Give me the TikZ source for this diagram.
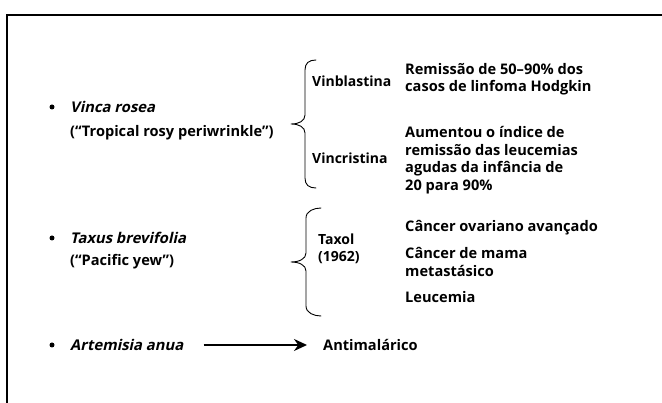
\documentclass[tikz,border=0pt]{standalone}
\usepackage{fontspec}
\setmainfont{Open Sans}
\newfontfamily\spfont{Open Sans}[BoldFeatures={FakeSlant=0.22}]
\usetikzlibrary{arrows.meta}
\begin{document}
\begin{tikzpicture}[x=1pt,y=-1pt,
  txt/.style={inner sep=0pt, anchor=west, align=left, font=\fontsize{14.6}{17.5}\selectfont\bfseries},
  mid/.style={txt, font=\fontsize{14}{17.5}\selectfont\bfseries},
  spc/.style={txt, font=\fontsize{14.8}{17.5}\selectfont\spfont\bfseries},
  bul/.style={circle, fill=black, inner sep=0pt, minimum size=5pt},
  brace/.style={line width=0.9pt, line cap=round, line join=round},
  frame/.style={line width=2.5pt},
  arr/.style={line width=1.8pt, -{Stealth[length=13pt,width=12pt]}}]
\useasboundingbox (0,0) rectangle (662,403);
\draw[frame] (7,404) -- (7,15) -- (663,15);
% block 1
\node[bul] (b1) at (52,107) {};
\node[spc] (vinca) at (70,107) {Vinca rosea};
\node[txt] (trop) at (70,133) {(“Tropical rosy periwrinkle”)};
\draw[brace] (316,60) .. controls (309,60) and (305,63) .. (305,70) -- (305,115)
  .. controls (305,121) and (299,124) .. (291,124)
  .. controls (299,124) and (305,127) .. (305,133) -- (305,178)
  .. controls (305,185) and (309,188) .. (316,188);
\node[mid] (vinb) at (312,81) {Vinblastina};
\node[mid] (vinc) at (312,158) {Vincristina};
\node[txt] (r1) at (405,79) {Remissão de 50–90\% dos\\casos de linfoma Hodgkin};
\node[txt] (r2) at (405,160) {Aumentou o índice de\\remissão das leucemias\\agudas da infância de\\20 para 90\%};
% block 2
\node[bul] (b2) at (52,238) {};
\node[spc] (taxus) at (70,238) {Taxus brevifolia};
\node[txt] (pac) at (70,262) {(“Pacific yew”)};
\draw[brace] (321,208) .. controls (314,208) and (306,211) .. (306,218) -- (306,253)
  .. controls (306,259) and (299,262) .. (291,262)
  .. controls (299,262) and (306,265) .. (306,271) -- (306,306)
  .. controls (306,313) and (314,316) .. (321,316);
\node[mid] (taxol) at (318,249) {Taxol\\(1962)};
\node[txt] (c1) at (405,228) {Câncer ovariano avançado};
\node[txt] (c2) at (405,262) {Câncer de mama\\metastásico};
\node[txt] (c3) at (405,297) {Leucemia};
% block 3
\node[bul] (b3) at (52,345) {};
\node[spc] (art) at (70,345) {Artemisia anua};
\node[txt] (anti) at (323,345) {Antimalárico};
\draw[arr, shorten <=20pt, shorten >=16pt] (art.east) -- (anti.west);
\end{tikzpicture}
\end{document}
